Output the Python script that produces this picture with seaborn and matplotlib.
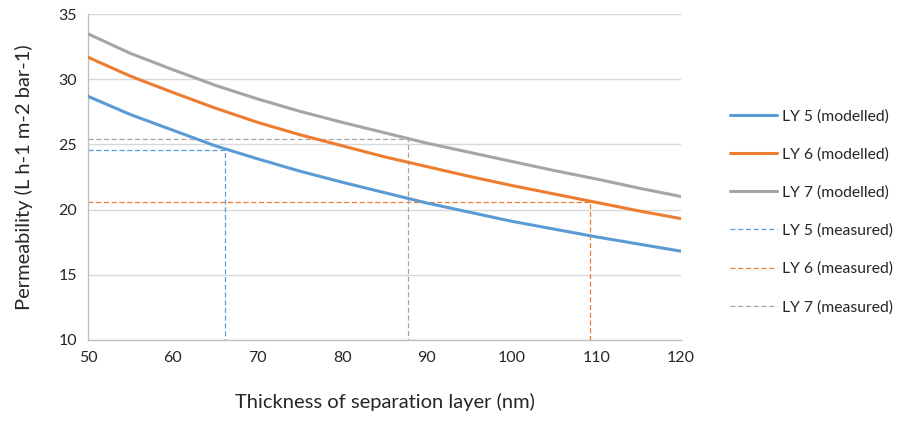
import matplotlib
matplotlib.use("Agg")
import matplotlib.pyplot as plt
import seaborn as sns
import pandas as pd

# Modelled permeability vs. separation-layer thickness
thickness = [50, 55, 60, 65, 70, 75, 80, 85, 90, 95, 100, 105, 110, 115, 120]
ly5_modelled = [28.7, 27.3, 26.1, 24.9, 23.9, 22.95, 22.1, 21.3, 20.5, 19.8, 19.1, 18.5, 17.9, 17.35, 16.8]
ly6_modelled = [31.7, 30.25, 29.0, 27.8, 26.7, 25.75, 24.9, 24.05, 23.3, 22.55, 21.85, 21.2, 20.55, 19.9, 19.3]
ly7_modelled = [33.5, 32.0, 30.75, 29.55, 28.5, 27.55, 26.7, 25.9, 25.1, 24.4, 23.7, 23.0, 22.35, 21.65, 21.0]

# Measured samples: thickness and permeability
measured_names = ["LY 5", "LY 6", "LY 7"]
measured_thickness = [66.2, 109.3, 87.8]
measured_permeability = [24.6, 20.6, 25.4]

colors = {"LY 5": "#5B9BD5", "LY 6": "#ED7D31", "LY 7": "#A5A5A5"}

sns.set_style("white")
plt.rcParams["font.family"] = ["Lato", "DejaVu Sans"]

fig = plt.figure(figsize=(9.05, 4.21), dpi=100)
ax = fig.add_axes([88 / 905, 1 - 339.7 / 421, (681 - 88) / 905, (339.7 - 14.3) / 421])

x_min, y_min = 50, 10

for name, vals in zip(["LY 5", "LY 6", "LY 7"], [ly5_modelled, ly6_modelled, ly7_modelled]):
    df = pd.DataFrame({"x": thickness, "y": vals})
    sns.lineplot(data=df, x="x", y="y", color=colors[name], lw=2.2, ax=ax,
                 sort=False, estimator=None, label=f"{name} (modelled)", zorder=3)

# Measured points drawn as drop lines to both axes
for name, mx, my in zip(measured_names, measured_thickness, measured_permeability):
    df = pd.DataFrame({"x": [x_min, mx, mx], "y": [my, my, y_min]})
    sns.lineplot(data=df, x="x", y="y", color=colors[name], lw=0.9, ax=ax,
                 sort=False, estimator=None, label=f"{name} (measured)", zorder=2,
                 linestyle=(0, (4, 2.2)))

handles, labels = ax.get_legend_handles_labels()
ax.get_legend().remove()

ax.set_xlim(50, 120)
ax.set_ylim(10, 35)
ax.set_xticks(range(50, 121, 10))
ax.set_yticks(range(10, 36, 5))
ax.yaxis.grid(True, color="#D9D9D9", lw=1.0)
ax.xaxis.grid(False)
ax.set_axisbelow(True)
for s in ["top", "right"]:
    ax.spines[s].set_visible(False)
for s in ["left", "bottom"]:
    ax.spines[s].set_color("#BFBFBF")
    ax.spines[s].set_linewidth(1.0)
ax.tick_params(axis="both", length=0, labelsize=11.5, colors="#262626", pad=8)

ax.set_xlabel("Thickness of separation layer (nm)", fontsize=14.5, color="#262626", labelpad=20)
ax.set_ylabel("Permeability (L h-1 m-2 bar-1)", fontsize=14.5, color="#262626", labelpad=18)

fig.legend(handles, labels, loc="center left", bbox_to_anchor=(722 / 905, 1 - 211.7 / 421),
           frameon=False, fontsize=11.3, handlelength=3.0, handletextpad=0.35,
           labelspacing=1.52, borderpad=0, labelcolor="#262626")

fig.savefig("out.png", dpi=100)
